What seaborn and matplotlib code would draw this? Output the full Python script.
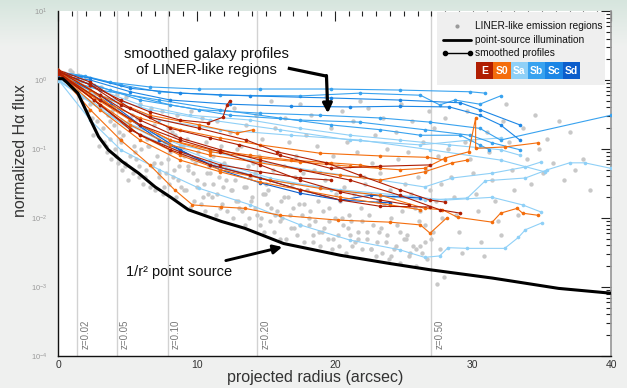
import numpy as np
import pandas as pd
import seaborn as sns
import matplotlib.pyplot as plt
from matplotlib.ticker import MultipleLocator, LogLocator, NullFormatter
from matplotlib.patches import Rectangle

sns.set_theme(style="white")
plt.rcParams["font.family"] = ["Liberation Sans", "DejaVu Sans"]

# morphological types and their colours
types = ["E", "S0", "Sa", "Sb", "Sc", "Sd"]
type_colors = ["#b01e02", "#f46d0c", "#8fd0f7", "#38a2ef", "#1c86e5", "#0c5dcb"]

# point-source (1/r^2 convolved) curve
ps_x = [0, 0.3, 0.7, 1.4, 2.2, 2.9, 3.6, 4.6, 5.8, 7.0, 8.2, 9.4, 11.8, 13.5, 16.3, 20.4, 24.0, 26.9, 31.4, 36.2, 40]
ps_logflux = [0.02, 0.02, -0.05, -0.19, -0.53, -0.82, -1.01, -1.18, -1.35, -1.55, -1.71, -1.88,
              -2.05, -2.15, -2.37, -2.54, -2.66, -2.75, -2.87, -3.02, -3.09]

# smoothed galaxy profiles (x in arcsec, log10 normalized flux)
profile_type = ["Sb", "Sb", "Sc", "Sb", "Sa", "Sa", "Sb", "Sa", "Sa", "Sa", "Sa", "Sa", "Sc", "Sb",
                "Sd", "Sd", "E", "E", "E", "E", "E", "E", "E",
                "S0", "S0", "S0", "S0", "S0", "S0", "S0", "S0"]
profile_x = [
    [0, 1.6, 3.7, 6.6, 10.2, 14.6, 19.7, 24.7, 29.8, 30.9],
    [0, 1.9, 4.5, 7.3, 11.7, 17.5, 21.8, 26.2, 27.6, 28.7, 30.5, 32.0],
    [0, 2.3, 5.2, 8.1, 12.4, 16.8, 21.1, 24.7, 28.3, 30.5, 32.0, 33.4],
    [0, 2.6, 5.9, 10.2, 14.6, 18.9, 23.3, 26.9, 30.5, 32.0, 40],
    [0, 3.0, 5.9, 9.5, 13.9, 17.5, 21.1, 24.7, 28.3, 32.0, 33.4],
    [0, 3.0, 6.6, 11.0, 16.0, 21.1, 26.2, 29.8, 32.0],
    [0, 3.0, 7.3, 11.7, 16.0, 19.7, 23.3, 26.2, 29.1, 30.5, 31.2],
    [0, 3.7, 7.3, 11.7, 16.8, 21.8, 26.9, 32.0, 35.2],
    [0, 3.7, 7.3, 11.0, 15.3, 19.7, 23.3, 26.5, 29.6, 30.9, 33.8, 35.4, 37.0, 38.1, 40],
    [0, 4.5, 8.8, 13.9, 18.9, 23.3, 26.5, 28.5, 31.4, 33.8, 34.9],
    [0, 5.2, 10.2, 15.3, 20.4, 24.7, 28.0, 31.4, 33.6, 34.9],
    [0, 2.3, 4.5, 7.3, 10.2, 13.9, 17.5, 21.1, 24.7, 26.5, 27.6, 28.2, 29.6, 32.3, 33.3, 33.8, 35.0],
    [0, 2.3, 5.2, 8.8, 13.9, 19.7, 24.7, 29.1, 30.5, 33.4],
    [0, 3.7, 8.1, 12.4, 17.5, 21.8, 26.5, 29.8, 31.4, 33.4],
    [0, 3.0, 5.9, 8.8, 11.7, 14.6, 17.5, 20.4, 22.6, 26.2],
    [0, 3.7, 7.3, 11.0, 14.6, 17.5, 20.4, 24.0],
    [0, 2.3, 4.5, 6.6, 8.8, 10.8, 11.9, 12.2, 12.4],
    [0, 2.3, 5.2, 8.1, 11.0, 13.1, 16.0, 19.7, 23.3, 26.9],
    [0, 3.0, 5.9, 8.8, 11.7, 14.6, 17.5, 21.1, 24.7, 27.6, 29.1],
    [0, 3.0, 5.9, 8.8, 11.7, 14.6, 17.5, 20.4, 23.3, 25.4],
    [0, 3.0, 5.9, 8.8, 11.7, 14.6, 17.5, 19.7],
    [0, 2.6, 5.2, 8.1, 11.0, 13.9, 17.5, 20.4, 23.3, 26.9],
    [0, 2.3, 4.5, 6.6, 10.2, 13.6, 15.8, 19.4, 21.8, 24.7, 26.9, 28.0],
    [0, 2.3, 5.2, 8.1, 11.0, 14.6, 17.5, 21.1, 24.7, 26.5, 28.0, 29.7, 30.2, 30.2, 32.3, 34.7],
    [0, 2.6, 5.2, 8.1, 11.0, 14.6, 17.5, 20.4, 23.3, 26.5, 28.5, 29.6],
    [0, 3.0, 5.9, 8.8, 11.7, 15.3, 18.9, 23.3, 26.5, 27.8, 28.9, 31.4, 32.0, 33.2, 33.6, 34.7],
    [0, 2.3, 4.5, 6.6, 8.4, 9.7, 11.8, 13.5, 16.0, 20.2, 24.0, 26.2, 26.9, 28.1],
    [0, 2.3, 5.2, 8.1, 11.0, 13.9, 16.8, 19.7, 21.8, 23.3],
    [0, 3.0, 5.9, 8.8, 11.7, 14.6, 18.9, 23.3, 26.7, 28.0],
    [0, 3.0, 6.6, 10.2, 12.9, 14.1],
    [0, 3.0, 5.9, 8.8, 11.7, 14.6, 17.5, 20.4, 24.0, 26.2],
]
profile_logflux = [
    [0.09, 0.06, -0.03, -0.10, -0.13, -0.13, -0.13, -0.145, -0.17, -0.19],
    [0.12, 0.06, -0.07, -0.17, -0.22, -0.23, -0.19, -0.22, -0.36, -0.29, -0.35, -0.23],
    [0.06, 0.0, -0.17, -0.29, -0.35, -0.38, -0.39, -0.38, -0.39, -0.51, -0.65, -0.87],
    [0.07, -0.07, -0.29, -0.43, -0.48, -0.51, -0.55, -0.61, -0.70, -0.87, -0.51],
    [0.03, -0.145, -0.36, -0.51, -0.58, -0.70, -0.80, -0.87, -0.94, -1.01, -1.09],
    [0.06, -0.22, -0.43, -0.58, -0.72, -0.87, -0.94, -0.87, -0.84],
    [0.04, -0.145, -0.29, -0.43, -0.55, -0.65, -0.72, -0.80, -0.80, -0.94, -1.01],
    [0.01, -0.29, -0.58, -0.72, -0.80, -0.87, -1.01, -1.16, -1.33],
    [0.0, -0.51, -0.87, -1.16, -1.42, -1.59, -1.68, -1.74, -1.71, -1.46, -1.42, -1.30, -1.20, -1.20, -1.28],
    [0.0, -0.58, -0.94, -1.16, -1.33, -1.45, -1.55, -1.42, -1.35, -1.26, -1.19],
    [-0.01, -0.72, -1.16, -1.45, -1.59, -1.67, -1.74, -1.70, -1.81, -1.91],
    [0.0, -0.58, -1.01, -1.30, -1.57, -1.81, -2.10, -2.32, -2.46, -2.57, -2.55, -2.43, -2.44, -2.44, -2.28, -2.17, -2.07],
    [0.10, 0.03, -0.12, -0.19, -0.23, -0.26, -0.29, -0.33, -0.43, -0.65],
    [0.07, -0.145, -0.36, -0.51, -0.58, -0.61, -0.72, -0.80, -0.91, -1.01],
    [0.09, -0.22, -0.65, -1.01, -1.30, -1.49, -1.64, -1.74, -1.67, -1.71],
    [0.07, -0.36, -0.87, -1.23, -1.42, -1.59, -1.74, -1.78],
    [0.12, -0.07, -0.29, -0.46, -0.58, -0.62, -0.54, -0.36, -0.30],
    [0.145, -0.03, -0.41, -0.70, -0.84, -0.94, -1.09, -1.28, -1.25, -1.23],
    [0.13, -0.22, -0.58, -0.84, -1.01, -1.16, -1.30, -1.45, -1.67, -1.88, -1.93],
    [0.10, -0.29, -0.65, -0.87, -1.04, -1.23, -1.45, -1.62, -1.74, -1.81],
    [0.12, -0.36, -0.80, -1.04, -1.23, -1.33, -1.42, -1.45],
    [0.09, -0.29, -0.72, -1.01, -1.23, -1.38, -1.59, -1.74, -1.83, -1.84],
    [0.13, -0.07, -0.36, -0.54, -0.70, -0.87, -1.04, -1.20, -1.38, -1.59, -1.74, -1.77],
    [0.145, -0.145, -0.58, -0.87, -1.04, -1.13, -1.19, -1.25, -1.30, -1.28, -1.13, -1.04, -0.55, -0.99, -0.97, -0.91],
    [0.12, -0.29, -0.65, -0.94, -1.09, -1.20, -1.30, -1.38, -1.45, -1.33, -1.20, -1.16],
    [0.10, -0.36, -0.80, -1.09, -1.30, -1.45, -1.57, -1.67, -1.86, -1.88, -1.99, -2.06, -1.93, -1.86, -1.93, -1.96],
    [0.09, -0.43, -0.87, -1.23, -1.59, -1.81, -1.84, -1.86, -1.96, -2.03, -2.06, -2.10, -2.22, -2.00],
    [0.13, -0.22, -0.58, -0.87, -1.01, -1.09, -1.16, -1.20, -1.23, -1.28],
    [0.12, -0.29, -0.55, -0.72, -0.84, -0.94, -1.06, -1.10, -1.12, -1.16],
    [0.145, -0.22, -0.51, -0.65, -0.77, -0.72],
    [0.10, -0.43, -0.87, -1.16, -1.33, -1.48, -1.59, -1.70, -1.81, -1.88],
]

# individual LINER-like spaxels (grey points)
grey_x = [
    0.4, 0.6, 0.8, 1.0, 1.1, 1.3,
    1.4, 1.5, 1.7, 1.8, 2.0, 2.1,
    2.2, 2.3, 2.4, 2.5, 2.6, 2.8, 2.9, 3.0,
    3.1, 3.2, 3.3, 3.4, 3.5, 3.6, 3.7, 3.8,
    3.9, 4.0, 4.1, 4.2, 4.3, 4.4, 4.5, 4.6,
    4.7, 4.8, 4.9, 5.0, 5.1, 5.2, 5.3, 5.4, 5.5,
    5.6, 5.7, 5.8, 5.9, 6.0, 6.1, 6.2, 6.3, 6.4,
    6.5, 6.6, 6.7, 6.8, 6.9, 7.0, 7.1, 7.2, 7.3,
    7.4, 7.5, 7.6, 7.7, 7.8, 7.9, 8.0, 8.1, 8.2,
    8.3, 8.4, 8.5, 8.6, 8.7, 8.8, 8.9, 9.0, 9.1,
    9.2, 9.3, 9.4, 9.5, 9.6, 9.7, 9.8, 9.9, 10.0,
    10.1, 10.3, 10.4, 10.5, 10.6, 10.7, 10.8, 10.9, 11.0,
    11.1, 11.2, 11.4, 11.5, 11.6, 11.7, 11.8, 11.9, 12.0,
    12.1, 12.2, 12.4, 12.5, 12.6, 12.7, 12.8, 12.9, 13.0,
    13.1, 13.2, 13.4, 13.5, 13.6, 13.7, 13.8, 13.9, 14.0, 14.1,
    14.2, 14.3, 14.4, 14.5, 14.6, 14.7, 14.8, 14.9, 15.0, 15.1,
    15.2, 15.3, 15.4, 15.5, 15.6, 15.7, 15.8, 15.9, 16.0, 16.1,
    16.2, 16.3, 16.4, 16.5, 16.6, 16.7, 16.8, 16.9, 17.0, 17.1,
    17.2, 17.3, 17.4, 17.5, 17.6, 17.7, 17.8, 17.9, 18.0, 18.1,
    18.2, 18.3, 18.4, 18.5, 18.6, 18.7, 18.8, 18.9, 19.0, 19.1,
    19.2, 19.3, 19.4, 19.5, 19.6, 19.7, 19.8, 19.9, 20.0, 20.1,
    20.2, 20.3, 20.4, 20.5, 20.6, 20.7, 20.8, 20.9, 21.0, 21.1,
    21.2, 21.3, 21.4, 21.5, 21.6, 21.7, 21.8, 21.9, 22.0, 22.1,
    22.2, 22.3, 22.4, 22.5, 22.6, 22.7, 22.8, 22.9, 23.0, 23.1,
    23.2, 23.3, 23.4, 23.5, 23.6, 23.7, 23.8, 23.9, 24.0, 24.1,
    24.2, 24.3, 24.4, 24.5, 24.6, 24.7, 24.8, 24.9, 25.0, 25.1,
    25.2, 25.3, 25.4, 25.5, 25.6, 25.7, 25.8, 25.9, 26.0, 26.1,
    26.2, 26.3, 26.4, 26.5, 26.6, 26.7, 26.8, 26.9, 27.0,
    27.1, 27.2, 27.3, 27.4, 27.5, 27.6, 27.7, 27.8, 27.9,
    28.0, 28.2, 28.4, 28.6, 28.8, 29.0, 29.2, 29.4,
    29.6, 29.8, 30.0, 30.2, 30.4, 30.6, 30.8, 31.0,
    31.2, 31.4, 31.6, 31.8, 32.0, 32.2, 32.4,
    32.6, 32.8, 33.0, 33.3, 33.6, 33.9, 34.2,
    34.5, 34.8, 35.1, 35.4, 35.8, 36.2, 36.6,
    37.0, 37.4, 38.0, 38.5,
    3.45, 4.15, 4.85, 5.55, 6.25, 6.95, 7.65, 8.35, 9.05, 9.75, 10.45, 11.15,
    11.85, 12.55, 13.25, 13.95, 14.65, 15.35, 16.05, 16.75, 17.45, 18.15, 18.85,
    19.55, 20.25, 20.95, 21.65, 22.35, 23.05, 23.75, 24.45, 25.15, 25.85, 26.55,
    3.75, 4.45, 5.15, 5.85, 6.55, 7.25, 7.95, 8.65, 9.35, 10.05, 10.75, 11.45,
    12.15, 12.85, 13.55, 14.25, 14.95, 15.65, 16.35, 17.05, 17.75, 18.45, 19.15,
    19.85, 20.55, 21.25, 21.95, 22.65, 23.35, 24.05, 24.75, 25.45, 26.15,
]
grey_logflux = [
    0.10, 0.05, 0.14, 0.12, 0.02, -0.05,
    0.08, -0.15, -0.02, -0.25, 0.03, -0.45,
    -0.10, -0.35, -0.55, -0.80, -0.20, -0.60, -0.95, -0.40,
    -0.10, -0.70, -0.90, -0.30, -1.05, -0.50, -0.85, -1.15,
    -0.45, -0.65, -1.00, -0.20, -1.20, -0.75, -0.90, -1.30,
    -0.80, -1.25, -0.25, -1.45, -0.60, -1.10, -0.50, -1.35, -0.95,
    -1.15, -0.55, -1.40, -0.35, -1.00, -1.50, -0.70, -1.30, -0.85,
    -0.95, -1.55, -0.40, -1.25, -0.65, -1.60, -1.10, -0.80, -1.35,
    -1.20, -0.45, -1.65, -0.90, -1.35, -0.70, -1.50, -1.05, -0.75,
    -1.40, -0.80, -1.70, -0.50, -1.25, -1.00, -1.55, -0.95, -1.10,
    -1.60, -0.85, -1.30, -1.85, -0.45, -1.15, -1.75, -1.20, -1.45,
    -1.05, -1.80, -0.55, -1.50, -1.90, -0.90, -1.65, -1.25, -1.35,
    -1.70, -1.10, -1.95, -0.60, -1.40, -1.85, -0.95, -1.55, -1.20,
    -1.30, -1.90, -0.75, -1.60, -2.00, -0.40, -1.45, -1.00, -1.75,
    -1.85, -0.95, -1.55, -2.10, -0.65, -1.25, -2.00, -1.40, -1.70, -1.20,
    -1.35, -0.50, -1.95, -1.10, -2.10, -0.85, -1.65, -2.20, -1.50, -1.80,
    -1.60, -2.05, -0.30, -1.30, -2.20, -0.70, -1.90, -1.05, -2.30, -1.75,
    -2.00, -1.25, -0.55, -2.30, -1.70, -0.90, -2.15, -1.50, -1.85, -1.40,
    -1.10, -2.25, -1.80, -0.35, -1.95, -1.35, -2.35, -0.80, -1.60, -2.10,
    -1.90, -0.50, -2.35, -1.30, -2.05, -0.95, -1.75, -2.40, -1.55, -2.20,
    -2.15, -1.45, -0.25, -2.30, -1.85, -0.70, -2.45, -1.10, -2.00, -1.65,
    -1.25, -2.40, -1.75, -0.45, -2.10, -1.55, -2.50, -0.90, -1.95, -2.25,
    -2.05, -0.60, -1.65, -2.35, -1.05, -2.20, -0.30, -1.85, -2.45, -1.40,
    -1.50, -2.30, -0.40, -1.95, -2.45, -1.20, -2.10, -0.80, -2.55, -1.75,
    -2.20, -1.35, -2.50, -0.55, -1.80, -2.35, -1.00, -2.60, -1.60, -2.00,
    -1.70, -2.45, -0.75, -2.10, -1.15, -2.65, -0.35, -1.90, -2.30, -1.50,
    -2.25, -1.05, -2.55, -1.65, -0.60, -2.40, -1.85, -2.70, -1.40, -2.05,
    -1.90, -2.50, -0.90, -2.10, -1.30, -2.60, -0.45, -1.60, -2.30,
    -2.20, -0.70, -1.75, -2.95, -1.10, -2.45, -1.50, -2.00, -2.85,
    -0.55, -1.00, -1.40, -1.70, -1.95, -2.20, -2.50, -0.90,
    -0.45, -1.15, -1.35, -1.65, -1.90, -2.35, -2.55, -0.75,
    -1.05, -1.45, -1.75, -2.05, -2.25, -0.60, -0.35,
    -0.90, -1.30, -1.60, -1.95, -0.70, -1.15, -1.50,
    -0.50, -1.00, -1.35, -0.85, -1.20, -0.60, -1.45,
    -0.75, -1.30, -1.15, -1.60,
    -0.95, -1.10, -1.20, -1.05, -1.40, -1.20, -1.55, -1.30, -1.60, -1.35, -1.70, -1.50,
    -1.80, -1.60, -1.90, -1.75, -2.00, -1.85, -2.05, -1.95, -2.10, -2.00, -2.20,
    -2.05, -2.25, -2.15, -2.30, -2.20, -2.35, -2.25, -2.40, -2.30, -2.45, -2.35,
    -0.60, -0.85, -0.70, -1.25, -0.95, -1.40, -1.15, -1.45, -1.25, -1.55, -1.35, -1.65,
    -1.45, -1.75, -1.55, -1.85, -1.65, -1.95, -1.70, -2.15, -1.80, -2.25, -1.90,
    -2.30, -2.00, -2.40, -2.05, -2.45, -2.15, -2.55, -2.20, -2.50, -2.40,
]

# redshift markers
z_radius = [1.37, 4.2, 7.9, 14.4, 27.0]
z_labels = ["z=0.02", "z=0.05", "z=0.10", "z=0.20", "z=0.50"]

rows = []
for pid, (t, xs, ys) in enumerate(zip(profile_type, profile_x, profile_logflux)):
    for x, y in zip(xs, ys):
        rows.append({"pid": pid, "type": t, "x": x, "flux": 10 ** y})
profiles = pd.DataFrame(rows)

fig = plt.figure(figsize=(6.27, 3.88), dpi=100)

# soft grey/green backdrop
bg = fig.add_axes([0, 0, 1, 1], zorder=-5)
top = np.array([0.84, 0.90, 0.87])
base = np.array([0.94, 0.945, 0.94])
w = np.clip(np.linspace(0, 1, 300) / 0.12, 0, 1)[:, None]
grad = top * (1 - w) + base * w
bg.imshow(grad[:, None, :], aspect="auto", extent=[0, 1, 0, 1])
bg.axis("off")

ax = fig.add_axes([0.0933, 0.0825, 0.8812, 0.889])
ax.set_facecolor("white")

for zr, zl in zip(z_radius, z_labels):
    ax.axvline(zr, color="#d2d2d2", lw=1, zorder=0)
    ax.text(zr + 0.25, 10 ** -3.9, zl, rotation=90, ha="left", va="bottom",
            fontsize=7, color="#777777")

sns.scatterplot(x=grey_x, y=[10 ** v for v in grey_logflux], color="#c8c8c8", s=10,
                linewidth=0, ax=ax, zorder=1)

pal = dict(zip(types, type_colors))
sns.lineplot(data=profiles, x="x", y="flux", hue="type", units="pid", estimator=None,
             sort=False, palette=pal, hue_order=["Sa", "Sb", "Sc", "Sd", "S0", "E"],
             marker="o", markersize=2.6, markeredgewidth=0, linewidth=0.8,
             legend=False, ax=ax, zorder=3)

sns.lineplot(x=ps_x, y=[10 ** v for v in ps_logflux], color="black", linewidth=2.2,
             ax=ax, zorder=4)

ax.set_yscale("log")
ax.set_xlim(0, 40)
ax.set_ylim(1e-4, 10)

ax.xaxis.set_major_locator(MultipleLocator(10))
ax.xaxis.set_minor_locator(MultipleLocator(1))
ax.yaxis.set_major_locator(LogLocator(base=10, numticks=10))
ax.yaxis.set_minor_locator(LogLocator(base=10, subs=np.arange(2, 10), numticks=20))
ax.yaxis.set_minor_formatter(NullFormatter())
ax.tick_params(which="both", direction="in", top=True, right=True, color="#222222", width=0.8)
ax.tick_params(which="major", length=7)
ax.tick_params(which="minor", length=3.5)
ax.tick_params(axis="x", labelsize=7.5, labelcolor="#333333", pad=3)
ax.tick_params(axis="y", labelsize=5.5, labelcolor="#9a9a9a", pad=8)

for side in ["left", "bottom"]:
    ax.spines[side].set_color("#111111")
    ax.spines[side].set_linewidth(1)
ax.spines["top"].set_visible(False)
ax.spines["right"].set_color("#999999")

ax.set_xlabel("projected radius (arcsec)", fontsize=11.5, color="#333333")
ax.set_ylabel("normalized H\u03b1 flux", fontsize=11.5, color="#333333")
ax.xaxis.set_label_coords(0.464, -0.042)
ax.yaxis.set_label_coords(-0.055, 0.594)

# annotations
ax.text(10.7, 10 ** 0.26, "smoothed galaxy profiles\nof LINER-like regions", ha="center",
        va="center", fontsize=10.7, color="#111111", linespacing=1.25, zorder=6)
arrow_x = [16.6, 19.4]
arrow_y = [1.49, 1.14]
ax.plot(arrow_x, arrow_y, color="black", lw=2.3, solid_capstyle="butt", zorder=6)
ax.annotate("", xy=(19.5, 0.33), xytext=(19.4, 1.16),
            arrowprops=dict(arrowstyle="-|>", lw=2.3, color="black", shrinkA=0, shrinkB=0,
                            mutation_scale=14), zorder=6)
ax.annotate("1/r\u00b2 point source", xy=(16.2, 10 ** -2.42), xytext=(8.73, 10 ** -2.78),
            ha="center", va="center", fontsize=10.5, color="#111111",
            arrowprops=dict(arrowstyle="-|>", lw=2.1, color="black", shrinkA=3, shrinkB=0,
                            mutation_scale=13), zorder=6)

# legend panel
tr = ax.transAxes
ax.add_patch(Rectangle((0.685, 0.786), 0.304, 0.212, transform=tr, facecolor="#efefef",
                       edgecolor="none", zorder=8))
ax.plot([0.721], [0.957], "o", ms=3, color="#9a9a9a", mew=0, transform=tr, zorder=9)
ax.text(0.754, 0.957, "LINER-like emission regions", transform=tr, fontsize=7.3,
        va="center", color="#111111", zorder=9)
ax.plot([0.696, 0.746], [0.916, 0.916], color="black", lw=2, transform=tr, zorder=9)
ax.text(0.754, 0.916, "point-source illumination", transform=tr, fontsize=7.3,
        va="center", color="#111111", zorder=9)
ax.plot([0.700, 0.745], [0.878, 0.878], color="black", lw=1, marker="o", ms=3,
        transform=tr, zorder=9)
ax.text(0.754, 0.878, "smoothed profiles", transform=tr, fontsize=7.3,
        va="center", color="#111111", zorder=9)
bw = 0.0314
for i, (t, c) in enumerate(zip(types, type_colors)):
    x0 = 0.7557 + i * bw
    ax.add_patch(Rectangle((x0, 0.803), bw, 0.049, transform=tr, facecolor=c,
                           edgecolor="none", zorder=9))
    ax.text(x0 + bw / 2, 0.8275, t, transform=tr, ha="center", va="center",
            fontsize=7.5, fontweight="bold", color="white", zorder=10)

fig.savefig("out.png", dpi=100)
